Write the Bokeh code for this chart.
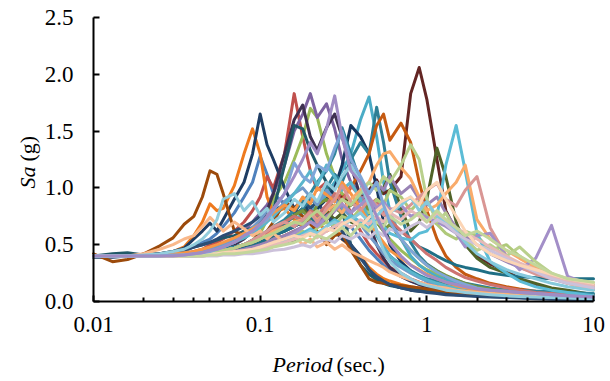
from bokeh.plotting import figure
from bokeh.models import Range1d, FixedTicker, CustomJSTickFormatter, PrintfTickFormatter, Label
from bokeh.embed import file_html
from bokeh.resources import INLINE
import math

# ---------------- data ----------------
period = [0.01, 0.013, 0.016, 0.02, 0.025, 0.03, 0.035, 0.04, 0.045, 0.05,
          0.055, 0.06, 0.07, 0.08, 0.09, 0.1, 0.11, 0.12, 0.14, 0.16,
          0.18, 0.2, 0.22, 0.25, 0.28, 0.31, 0.35, 0.4, 0.45, 0.5,
          0.55, 0.6, 0.7, 0.8, 0.9, 1.0, 1.15, 1.3, 1.5, 1.7,
          2.0, 2.4, 3.0, 3.6, 4.5, 5.6, 7.0, 10.0]

x_ticks = [0.01, 0.1, 1, 10]
y_ticks = [0.0, 0.5, 1.0, 1.5, 2.0, 2.5]
x_axis_title = ["Period", "(sec.)"]
y_axis_title = ["Sa", "(g)"]

sa_steel = [0.40, 0.40, 0.40, 0.40, 0.41, 0.42, 0.44, 0.48, 0.52, 0.55,
            0.60, 0.66, 0.78, 0.92, 1.05, 1.28, 1.12, 0.95, 0.86, 0.78,
            0.90, 0.82, 0.74, 0.80, 0.70, 0.62, 0.66, 0.55, 0.45, 0.38,
            0.32, 0.28, 0.22, 0.18, 0.15, 0.13, 0.11, 0.10, 0.09, 0.08,
            0.07, 0.06, 0.05, 0.045, 0.04, 0.035, 0.03, 0.025]
sa_red = [0.40, 0.40, 0.40, 0.40, 0.41, 0.41, 0.42, 0.44, 0.46, 0.50,
          0.52, 0.55, 0.62, 0.70, 0.80, 0.92, 1.10, 1.00, 1.30, 1.83,
          1.45, 1.15, 0.98, 1.05, 0.88, 0.95, 0.78, 0.62, 0.50, 0.42,
          0.36, 0.30, 0.25, 0.20, 0.17, 0.15, 0.13, 0.11, 0.10, 0.09,
          0.08, 0.07, 0.06, 0.05, 0.045, 0.04, 0.035, 0.03]
sa_green = [0.40, 0.40, 0.40, 0.40, 0.40, 0.40, 0.40, 0.41, 0.41, 0.42,
            0.43, 0.44, 0.46, 0.50, 0.54, 0.60, 0.72, 0.90, 1.05, 1.25,
            1.45, 1.70, 1.62, 1.30, 1.10, 0.95, 0.85, 0.92, 0.78, 0.70,
            0.62, 0.55, 0.45, 0.38, 0.32, 0.28, 0.24, 0.20, 0.17, 0.15,
            0.13, 0.11, 0.10, 0.09, 0.08, 0.07, 0.06, 0.05]
sa_purple = [0.40, 0.40, 0.40, 0.40, 0.40, 0.41, 0.41, 0.42, 0.43, 0.45,
             0.47, 0.50, 0.55, 0.62, 0.70, 0.78, 0.85, 0.95, 1.20, 1.50,
             1.65, 1.83, 1.62, 1.74, 1.52, 1.25, 1.05, 0.95, 0.80, 0.62,
             0.48, 0.40, 0.32, 0.26, 0.22, 0.19, 0.16, 0.14, 0.12, 0.10,
             0.09, 0.08, 0.07, 0.06, 0.05, 0.045, 0.04, 0.035]
sa_aqua = [0.40, 0.40, 0.40, 0.40, 0.40, 0.40, 0.40, 0.41, 0.41, 0.42,
           0.43, 0.44, 0.46, 0.48, 0.50, 0.52, 0.55, 0.58, 0.62, 0.70,
           0.78, 0.85, 0.80, 0.95, 1.05, 1.15, 1.30, 1.60, 1.80, 1.45,
           1.05, 0.80, 0.55, 0.40, 0.32, 0.27, 0.22, 0.19, 0.16, 0.14,
           0.12, 0.10, 0.09, 0.08, 0.07, 0.06, 0.05, 0.04]
sa_orange = [0.40, 0.40, 0.40, 0.41, 0.42, 0.44, 0.48, 0.58, 0.70, 0.86,
             0.80, 0.82, 1.02, 1.30, 1.52, 1.30, 0.92, 0.78, 0.82, 0.72,
             0.66, 0.78, 0.70, 0.62, 0.66, 0.55, 0.48, 0.40, 0.30, 0.24,
             0.20, 0.18, 0.15, 0.13, 0.12, 0.11, 0.10, 0.09, 0.08, 0.07,
             0.06, 0.055, 0.05, 0.045, 0.04, 0.035, 0.03, 0.025]
sa_navy = [0.39, 0.39, 0.40, 0.41, 0.42, 0.44, 0.47, 0.55, 0.62, 0.69,
           0.62, 0.72, 0.90, 1.05, 1.30, 1.65, 1.38, 1.25, 1.00, 0.82,
           0.90, 0.75, 0.72, 0.80, 0.62, 0.55, 0.50, 0.40, 0.28, 0.20,
           0.17, 0.15, 0.12, 0.10, 0.09, 0.085, 0.08, 0.07, 0.06, 0.055,
           0.05, 0.045, 0.04, 0.035, 0.03, 0.025, 0.02, 0.015]
sa_maroon = [0.40, 0.40, 0.40, 0.40, 0.40, 0.40, 0.40, 0.41, 0.41, 0.42,
             0.42, 0.43, 0.44, 0.45, 0.46, 0.47, 0.48, 0.50, 0.52, 0.54,
             0.58, 0.62, 0.66, 0.72, 0.80, 0.92, 0.85, 0.90, 0.98, 1.07,
             0.95, 0.98, 1.10, 1.83, 2.06, 1.78, 1.25, 0.80, 0.62, 0.55,
             0.40, 0.33, 0.27, 0.20, 0.14, 0.10, 0.07, 0.03]
sa_olive = [0.40, 0.40, 0.40, 0.40, 0.40, 0.40, 0.41, 0.41, 0.42, 0.43,
            0.44, 0.45, 0.47, 0.50, 0.53, 0.56, 0.60, 0.64, 0.70, 0.76,
            0.82, 0.75, 0.70, 0.80, 0.72, 0.78, 0.70, 0.66, 0.75, 0.85,
            1.00, 1.12, 0.82, 0.62, 0.70, 0.90, 1.35, 1.10, 0.70, 0.50,
            0.38, 0.30, 0.25, 0.20, 0.16, 0.12, 0.10, 0.06]
sa_dkpurple = [0.40, 0.40, 0.40, 0.40, 0.40, 0.40, 0.41, 0.41, 0.42, 0.43,
               0.45, 0.47, 0.50, 0.55, 0.62, 0.70, 0.80, 0.95, 1.30, 1.60,
               1.73, 1.45, 1.33, 1.53, 1.65, 1.45, 1.20, 0.92, 0.70, 0.50,
               0.38, 0.30, 0.22, 0.18, 0.15, 0.13, 0.11, 0.10, 0.09, 0.08,
               0.07, 0.06, 0.05, 0.04, 0.035, 0.03, 0.025, 0.02]
sa_dkteal = [0.40, 0.42, 0.43, 0.41, 0.42, 0.44, 0.46, 0.48, 0.50, 0.52,
             0.54, 0.56, 0.58, 0.62, 0.65, 0.70, 0.75, 0.80, 1.20, 1.55,
             1.52, 1.33, 1.20, 1.05, 0.92, 0.80, 0.50, 0.32, 0.24, 0.19,
             0.16, 0.14, 0.12, 0.11, 0.10, 0.095, 0.09, 0.085, 0.08, 0.075,
             0.07, 0.065, 0.06, 0.055, 0.05, 0.045, 0.04, 0.035]
sa_brown = [0.42, 0.35, 0.37, 0.42, 0.49, 0.56, 0.68, 0.75, 0.92, 1.15,
            1.12, 0.95, 0.62, 0.58, 0.60, 0.55, 0.62, 0.70, 0.88, 0.82,
            0.75, 0.68, 0.62, 0.50, 0.58, 0.60, 0.45, 0.32, 0.20, 0.17,
            0.16, 0.15, 0.14, 0.13, 0.12, 0.11, 0.10, 0.09, 0.08, 0.07,
            0.06, 0.05, 0.045, 0.04, 0.035, 0.03, 0.025, 0.02]
sa_dkblue = [0.40, 0.40, 0.40, 0.41, 0.42, 0.43, 0.45, 0.48, 0.50, 0.52,
             0.55, 0.58, 0.62, 0.66, 0.70, 0.75, 0.72, 0.80, 0.85, 0.78,
             0.90, 0.82, 0.88, 0.75, 0.70, 0.62, 0.50, 0.38, 0.28, 0.22,
             0.18, 0.15, 0.12, 0.10, 0.09, 0.08, 0.07, 0.06, 0.055, 0.05,
             0.045, 0.04, 0.035, 0.03, 0.025, 0.02, 0.018, 0.015]
sa_navy2 = [0.40, 0.40, 0.40, 0.40, 0.40, 0.40, 0.41, 0.41, 0.42, 0.42,
            0.43, 0.44, 0.46, 0.48, 0.50, 0.52, 0.55, 0.58, 0.62, 0.66,
            0.70, 0.76, 0.82, 0.90, 1.00, 1.20, 1.55, 1.45, 1.30, 1.00,
            0.70, 0.50, 0.35, 0.27, 0.22, 0.18, 0.15, 0.13, 0.11, 0.10,
            0.09, 0.08, 0.07, 0.06, 0.05, 0.045, 0.04, 0.035]
sa_teal2 = [0.40, 0.40, 0.40, 0.40, 0.40, 0.41, 0.41, 0.42, 0.43, 0.44,
            0.45, 0.46, 0.48, 0.50, 0.52, 0.55, 0.58, 0.62, 0.68, 0.75,
            0.82, 0.90, 0.85, 1.00, 1.12, 1.05, 1.25, 1.40, 1.30, 1.71,
            1.40, 1.05, 0.75, 0.52, 0.40, 0.33, 0.27, 0.22, 0.19, 0.16,
            0.14, 0.12, 0.10, 0.09, 0.08, 0.07, 0.06, 0.05]
sa_dkorange = [0.40, 0.40, 0.40, 0.40, 0.40, 0.40, 0.41, 0.41, 0.42, 0.42,
               0.43, 0.44, 0.45, 0.47, 0.48, 0.50, 0.52, 0.55, 0.58, 0.62,
               0.65, 0.70, 0.68, 0.75, 0.82, 0.90, 1.00, 1.15, 1.30, 1.55,
               1.65, 1.42, 1.57, 1.40, 1.05, 0.80, 0.55, 0.40, 0.30, 0.24,
               0.20, 0.16, 0.13, 0.11, 0.09, 0.08, 0.07, 0.05]
sa_teal3 = [0.40, 0.40, 0.40, 0.40, 0.40, 0.41, 0.41, 0.42, 0.42, 0.43,
            0.44, 0.46, 0.48, 0.50, 0.54, 0.58, 0.62, 0.66, 0.72, 0.80,
            0.88, 0.95, 1.05, 1.15, 1.30, 1.53, 1.30, 1.05, 0.80, 0.60,
            0.48, 0.40, 0.32, 0.27, 0.23, 0.20, 0.18, 0.16, 0.14, 0.13,
            0.12, 0.11, 0.10, 0.10, 0.09, 0.09, 0.08, 0.07]
sa_green2 = [0.40, 0.40, 0.40, 0.40, 0.40, 0.40, 0.41, 0.41, 0.42, 0.43,
             0.44, 0.45, 0.47, 0.50, 0.53, 0.56, 0.60, 0.64, 0.70, 0.76,
             0.80, 0.72, 0.85, 0.90, 0.82, 0.78, 0.85, 0.92, 0.80, 0.70,
             0.62, 0.68, 0.55, 0.45, 0.38, 0.32, 0.27, 0.23, 0.19, 0.16,
             0.13, 0.11, 0.09, 0.08, 0.07, 0.06, 0.05, 0.04]
sa_teal4 = [0.40, 0.40, 0.40, 0.40, 0.40, 0.40, 0.41, 0.41, 0.42, 0.42,
            0.43, 0.44, 0.46, 0.48, 0.50, 0.52, 0.55, 0.58, 0.62, 0.66,
            0.70, 0.75, 0.68, 0.80, 0.85, 0.78, 0.88, 0.82, 0.75, 0.85,
            0.78, 0.70, 0.62, 0.55, 0.48, 0.45, 0.40, 0.36, 0.32, 0.30,
            0.28, 0.25, 0.23, 0.22, 0.21, 0.20, 0.20, 0.20]
sa_blue2 = [0.40, 0.40, 0.40, 0.40, 0.41, 0.41, 0.42, 0.43, 0.44, 0.46,
            0.48, 0.50, 0.55, 0.60, 0.65, 0.72, 0.80, 0.75, 0.88, 0.95,
            1.00, 0.92, 0.85, 0.98, 0.90, 0.82, 0.75, 0.68, 0.58, 0.50,
            0.42, 0.36, 0.30, 0.25, 0.21, 0.18, 0.15, 0.13, 0.11, 0.09,
            0.08, 0.07, 0.06, 0.05, 0.045, 0.04, 0.035, 0.03]
sa_ltred = [0.40, 0.40, 0.40, 0.40, 0.40, 0.40, 0.41, 0.41, 0.42, 0.43,
            0.44, 0.45, 0.47, 0.50, 0.53, 0.56, 0.60, 0.64, 0.70, 0.75,
            0.72, 0.80, 0.76, 0.85, 0.95, 0.88, 1.02, 0.92, 0.85, 0.90,
            0.78, 0.72, 0.62, 0.55, 0.48, 0.42, 0.36, 0.30, 0.25, 0.21,
            0.18, 0.15, 0.12, 0.10, 0.08, 0.07, 0.06, 0.05]
sa_ltgreen2 = [0.40, 0.40, 0.40, 0.40, 0.40, 0.40, 0.40, 0.40, 0.41, 0.41,
               0.42, 0.42, 0.43, 0.44, 0.46, 0.48, 0.50, 0.52, 0.55, 0.58,
               0.62, 0.58, 0.65, 0.70, 0.66, 0.75, 0.72, 0.82, 0.78, 0.90,
               0.85, 0.98, 0.92, 0.80, 0.88, 0.75, 0.68, 0.60, 0.55, 0.62,
               0.58, 0.45, 0.50, 0.40, 0.30, 0.24, 0.20, 0.16]
sa_lilac = [0.40, 0.40, 0.40, 0.40, 0.40, 0.40, 0.40, 0.41, 0.41, 0.42,
            0.42, 0.43, 0.44, 0.46, 0.48, 0.50, 0.52, 0.55, 0.58, 0.62,
            0.66, 0.70, 0.68, 0.75, 0.80, 0.85, 0.78, 0.90, 0.95, 1.05,
            0.98, 1.10, 0.95, 1.02, 0.90, 0.85, 0.92, 0.78, 0.65, 0.58,
            0.50, 0.42, 0.35, 0.30, 0.25, 0.20, 0.16, 0.12]
sa_aqua2 = [0.40, 0.40, 0.40, 0.40, 0.40, 0.41, 0.41, 0.42, 0.43, 0.44,
            0.46, 0.48, 0.52, 0.56, 0.60, 0.65, 0.70, 0.75, 0.85, 0.95,
            1.05, 1.15, 1.02, 1.20, 1.10, 0.98, 1.05, 0.90, 0.72, 0.58,
            0.48, 0.40, 0.32, 0.26, 0.22, 0.19, 0.16, 0.14, 0.12, 0.10,
            0.09, 0.08, 0.07, 0.06, 0.05, 0.045, 0.04, 0.035]
sa_orange2 = [0.40, 0.40, 0.40, 0.40, 0.41, 0.42, 0.43, 0.44, 0.46, 0.48,
              0.50, 0.52, 0.56, 0.60, 0.64, 0.68, 0.72, 0.78, 0.85, 0.80,
              0.92, 0.86, 1.00, 0.94, 0.88, 1.05, 0.95, 0.82, 0.70, 0.60,
              0.52, 0.45, 0.38, 0.32, 0.28, 0.24, 0.20, 0.17, 0.14, 0.12,
              0.10, 0.09, 0.08, 0.07, 0.06, 0.05, 0.045, 0.04]
sa_peach = [0.40, 0.40, 0.40, 0.42, 0.46, 0.50, 0.55, 0.58, 0.66, 0.74,
            0.68, 0.62, 0.70, 0.64, 0.58, 0.62, 0.55, 0.60, 0.52, 0.58,
            0.50, 0.55, 0.48, 0.52, 0.46, 0.50, 0.44, 0.40, 0.36, 0.33,
            0.30, 0.26, 0.22, 0.19, 0.17, 0.15, 0.13, 0.12, 0.10, 0.09,
            0.08, 0.07, 0.06, 0.05, 0.045, 0.04, 0.035, 0.03]
sa_ltaqua = [0.40, 0.40, 0.40, 0.40, 0.40, 0.40, 0.40, 0.40, 0.41, 0.41,
             0.42, 0.42, 0.43, 0.44, 0.45, 0.46, 0.48, 0.50, 0.53, 0.56,
             0.60, 0.64, 0.60, 0.66, 0.72, 0.68, 0.76, 0.70, 0.64, 0.72,
             0.66, 0.60, 0.56, 0.54, 0.60, 0.62, 0.75, 1.20, 1.55, 1.15,
             0.60, 0.35, 0.25, 0.18, 0.13, 0.10, 0.08, 0.05]
sa_ltorange = [0.40, 0.40, 0.40, 0.40, 0.40, 0.40, 0.41, 0.41, 0.42, 0.43,
               0.44, 0.45, 0.47, 0.50, 0.52, 0.55, 0.58, 0.62, 0.66, 0.70,
               0.72, 0.78, 0.72, 0.80, 0.85, 0.78, 0.90, 0.98, 1.05, 1.20,
               1.30, 1.32, 1.18, 1.08, 0.92, 0.80, 0.85, 0.95, 1.05, 1.20,
               0.72, 0.55, 0.45, 0.38, 0.30, 0.22, 0.16, 0.10]
sa_pink = [0.40, 0.40, 0.40, 0.40, 0.40, 0.40, 0.40, 0.41, 0.42, 0.43,
           0.44, 0.45, 0.47, 0.50, 0.54, 0.58, 0.62, 0.66, 0.70, 0.66,
           0.72, 0.78, 0.70, 0.82, 0.90, 1.02, 0.88, 0.80, 0.90, 0.85,
           0.76, 0.82, 0.78, 0.85, 0.92, 0.98, 1.04, 0.90, 0.84, 0.98,
           1.10, 0.65, 0.40, 0.30, 0.24, 0.20, 0.18, 0.15]
sa_lav2 = [0.40, 0.40, 0.40, 0.40, 0.40, 0.40, 0.40, 0.40, 0.40, 0.41,
           0.41, 0.42, 0.43, 0.44, 0.46, 0.48, 0.50, 0.52, 0.55, 0.60,
           0.65, 0.70, 0.66, 0.74, 0.80, 0.86, 0.78, 0.85, 0.92, 0.82,
           0.88, 0.80, 0.85, 0.75, 0.78, 0.74, 0.70, 0.66, 0.60, 0.48,
           0.58, 0.60, 0.40, 0.28, 0.38, 0.67, 0.22, 0.14]
sa_ltgreen = [0.40, 0.40, 0.40, 0.40, 0.40, 0.40, 0.41, 0.41, 0.42, 0.43,
              0.44, 0.45, 0.47, 0.50, 0.52, 0.55, 0.58, 0.60, 0.65, 0.70,
              0.68, 0.75, 0.80, 0.72, 0.82, 0.90, 0.85, 0.95, 1.05, 0.98,
              1.10, 1.05, 1.20, 1.38, 1.25, 0.90, 0.70, 0.78, 0.60, 0.55,
              0.45, 0.50, 0.40, 0.48, 0.35, 0.25, 0.18, 0.14]
sa_paleaqua = [0.40, 0.40, 0.40, 0.40, 0.40, 0.40, 0.40, 0.40, 0.41, 0.41,
               0.42, 0.42, 0.43, 0.44, 0.45, 0.46, 0.48, 0.50, 0.52, 0.55,
               0.58, 0.62, 0.60, 0.66, 0.70, 0.65, 0.72, 0.78, 0.70, 0.75,
               0.82, 0.78, 0.85, 0.92, 0.80, 0.88, 0.75, 0.70, 0.62, 0.52,
               0.42, 0.35, 0.28, 0.24, 0.20, 0.16, 0.13, 0.10]
sa_palepink = [0.40, 0.40, 0.40, 0.40, 0.40, 0.40, 0.40, 0.40, 0.40, 0.41,
               0.41, 0.42, 0.43, 0.44, 0.45, 0.46, 0.48, 0.50, 0.52, 0.55,
               0.58, 0.60, 0.56, 0.62, 0.66, 0.70, 0.65, 0.72, 0.68, 0.75,
               0.70, 0.78, 0.72, 0.80, 0.75, 0.70, 0.78, 0.72, 0.65, 0.60,
               0.55, 0.48, 0.40, 0.34, 0.28, 0.22, 0.18, 0.14]
sa_palelilac = [0.40, 0.40, 0.40, 0.40, 0.40, 0.40, 0.40, 0.40, 0.40, 0.40,
                0.40, 0.41, 0.41, 0.42, 0.42, 0.43, 0.44, 0.45, 0.46, 0.48,
                0.50, 0.48, 0.52, 0.55, 0.52, 0.58, 0.55, 0.60, 0.56, 0.62,
                0.58, 0.64, 0.60, 0.66, 0.70, 0.65, 0.72, 0.68, 0.60, 0.55,
                0.50, 0.45, 0.38, 0.32, 0.26, 0.20, 0.16, 0.12]
sa_palepeach = [0.40, 0.40, 0.40, 0.40, 0.40, 0.40, 0.40, 0.41, 0.41, 0.42,
                0.42, 0.43, 0.44, 0.45, 0.46, 0.48, 0.50, 0.52, 0.55, 0.58,
                0.56, 0.60, 0.58, 0.64, 0.62, 0.68, 0.72, 0.66, 0.74, 0.80,
                0.85, 0.78, 0.88, 0.92, 0.85, 0.98, 1.05, 0.90, 0.75, 0.62,
                0.50, 0.42, 0.36, 0.32, 0.28, 0.24, 0.20, 0.16]
sa_palegreen = [0.40, 0.40, 0.40, 0.40, 0.40, 0.40, 0.40, 0.40, 0.40, 0.41,
                0.41, 0.42, 0.42, 0.43, 0.44, 0.45, 0.46, 0.48, 0.50, 0.52,
                0.55, 0.52, 0.58, 0.55, 0.60, 0.65, 0.58, 0.68, 0.62, 0.70,
                0.66, 0.75, 0.68, 0.72, 0.78, 0.70, 0.80, 0.72, 0.65, 0.58,
                0.62, 0.55, 0.45, 0.40, 0.32, 0.25, 0.20, 0.17]
sa_ltblue = [0.40, 0.40, 0.40, 0.41, 0.42, 0.44, 0.46, 0.50, 0.55, 0.62,
             0.72, 0.90, 0.95, 0.80, 0.88, 0.76, 0.82, 0.70, 0.78, 0.90,
             0.84, 0.95, 0.88, 1.05, 0.98, 1.10, 1.20, 1.05, 0.85, 0.62,
             0.45, 0.35, 0.25, 0.20, 0.16, 0.14, 0.12, 0.10, 0.09, 0.08,
             0.07, 0.06, 0.05, 0.045, 0.04, 0.035, 0.03, 0.025]
sa_cornflower = [0.40, 0.40, 0.40, 0.40, 0.40, 0.41, 0.41, 0.42, 0.43, 0.44,
                 0.46, 0.48, 0.52, 0.58, 0.62, 0.68, 0.72, 0.80, 0.95, 1.22,
                 1.10, 1.05, 1.20, 1.15, 1.35, 1.50, 1.25, 1.10, 0.95, 1.05,
                 0.85, 0.70, 0.55, 0.45, 0.38, 0.32, 0.26, 0.22, 0.18, 0.15,
                 0.12, 0.10, 0.09, 0.08, 0.07, 0.06, 0.05, 0.04]
sa_lavender = [0.40, 0.40, 0.40, 0.40, 0.40, 0.40, 0.41, 0.42, 0.43, 0.45,
               0.46, 0.48, 0.52, 0.58, 0.62, 0.68, 0.75, 0.82, 0.95, 1.10,
               1.25, 1.40, 1.30, 1.52, 1.81, 1.45, 1.15, 1.05, 0.90, 0.75,
               0.62, 0.52, 0.40, 0.32, 0.27, 0.23, 0.20, 0.17, 0.15, 0.13,
               0.11, 0.10, 0.09, 0.08, 0.07, 0.06, 0.05, 0.04]

# drawing order (first drawn = bottom) with line colours
records = [
    (sa_steel, "#4F81BD"), (sa_red, "#C0504D"), (sa_green, "#9BBB59"),
    (sa_purple, "#7E63A1"), (sa_aqua, "#4BACC6"), (sa_orange, "#EE7A1E"),
    (sa_navy, "#1F3D63"), (sa_maroon, "#632523"), (sa_olive, "#4F6228"),
    (sa_dkpurple, "#3F3151"), (sa_dkteal, "#215968"), (sa_brown, "#9C4A0B"),
    (sa_dkblue, "#2C4D75"), (sa_navy2, "#17375E"), (sa_teal2, "#2E7F95"),
    (sa_dkorange, "#C55A11"), (sa_teal3, "#31859C"), (sa_green2, "#77933C"),
    (sa_teal4, "#1F6F85"), (sa_blue2, "#729ACA"), (sa_ltred, "#CD7371"),
    (sa_ltgreen2, "#AFC97A"), (sa_lilac, "#9983B5"), (sa_aqua2, "#5AB5CC"),
    (sa_orange2, "#F79646"), (sa_peach, "#F9B88A"), (sa_ltaqua, "#5BBCD6"),
    (sa_ltorange, "#F9AB6B"), (sa_pink, "#D99694"), (sa_lav2, "#A38FC8"),
    (sa_ltgreen, "#B9D08C"), (sa_paleaqua, "#86C9DC"), (sa_palepink, "#E6B9B8"),
    (sa_palelilac, "#CCC1DA"), (sa_palepeach, "#FCD5B5"), (sa_palegreen, "#C3D69B"),
    (sa_ltblue, "#93CDDD"), (sa_cornflower, "#7FA6D8"), (sa_lavender, "#A08CC4"),
]

for i, (vals, _) in enumerate(records):
    if len(vals) != len(period):
        raise ValueError("series %d has %d values" % (i, len(vals)))

# ---------------- layout: frame covers the whole canvas ----------------
W, H = 610, 381
AX_L, AX_R, AX_T, AX_B = 93, 593, 17, 301          # pixel box of the plot area
px_dec = (AX_R - AX_L) / 3.0                          # pixels per decade
px_unit = (AX_B - AX_T) / 2.5                         # pixels per g
x0 = 10 ** (-2 - AX_L / px_dec)
x1 = 10 ** (1 + (W - AX_R) / px_dec)
y0 = -(H - AX_B) / px_unit
y1 = 2.5 + AX_T / px_unit

FONT = "Liberation Serif"
p = figure(width=W, height=H, x_axis_type="log",
           x_range=Range1d(x0, x1), y_range=Range1d(y0, y1),
           output_backend="svg", toolbar_location=None,
           min_border=0, min_border_left=0, min_border_right=0,
           min_border_top=0, min_border_bottom=0)
p.background_fill_color = "white"
p.border_fill_color = "white"
p.outline_line_color = None
p.xgrid.visible = False
p.ygrid.visible = False

for vals, col in records:
    p.line(period, vals, line_width=3, line_color=col,
           line_join="round", line_cap="round")

minor = [k * 10.0 ** e for e in (-2, -1, 0) for k in range(2, 10)]
xa = p.xaxis[0]
xa.ticker = FixedTicker(ticks=x_ticks, minor_ticks=minor)
xa.formatter = CustomJSTickFormatter(code="return String(tick);")
xa.fixed_location = 0.0
xa.bounds = (x_ticks[0], x_ticks[-1])
ya = p.yaxis[0]
ya.ticker = FixedTicker(ticks=y_ticks)
ya.formatter = PrintfTickFormatter(format="%.1f")
ya.fixed_location = x_ticks[0]
ya.bounds = (y_ticks[0], y_ticks[-1])

for ax in (xa, ya):
    ax.axis_line_color = "black"
    ax.axis_line_width = 2
    ax.major_tick_line_color = "black"
    ax.major_tick_line_width = 2
    ax.minor_tick_line_color = "black"
    ax.minor_tick_line_width = 2
    ax.major_tick_in = 6
    ax.major_tick_out = 0
    ax.minor_tick_in = 4
    ax.minor_tick_out = 0
    ax.major_label_text_font = FONT
    ax.major_label_text_font_size = "23px"
    ax.major_label_text_color = "black"
xa.major_label_standoff = 15
ya.major_label_standoff = 20

# axis titles (italic quantity + upright unit); screen units from frame bottom-left
def lab(text, x, y, italic, angle=0.0):
    return Label(x=x, y=y, x_units="screen", y_units="screen", text=text,
                 text_font=FONT, text_font_size="22px", text_color="black",
                 text_font_style="italic" if italic else "normal",
                 text_align="left", text_baseline="alphabetic", angle=angle)

p.add_layout(lab(x_axis_title[0], 272, H - 364, True))
p.add_layout(lab(x_axis_title[1], 336, H - 364, False))
p.add_layout(lab(y_axis_title[0], 27, H - 188, True, math.pi / 2))
p.add_layout(lab(y_axis_title[1], 27, H - 161, False, math.pi / 2))

open("out.html", "w").write(file_html(p, INLINE))
